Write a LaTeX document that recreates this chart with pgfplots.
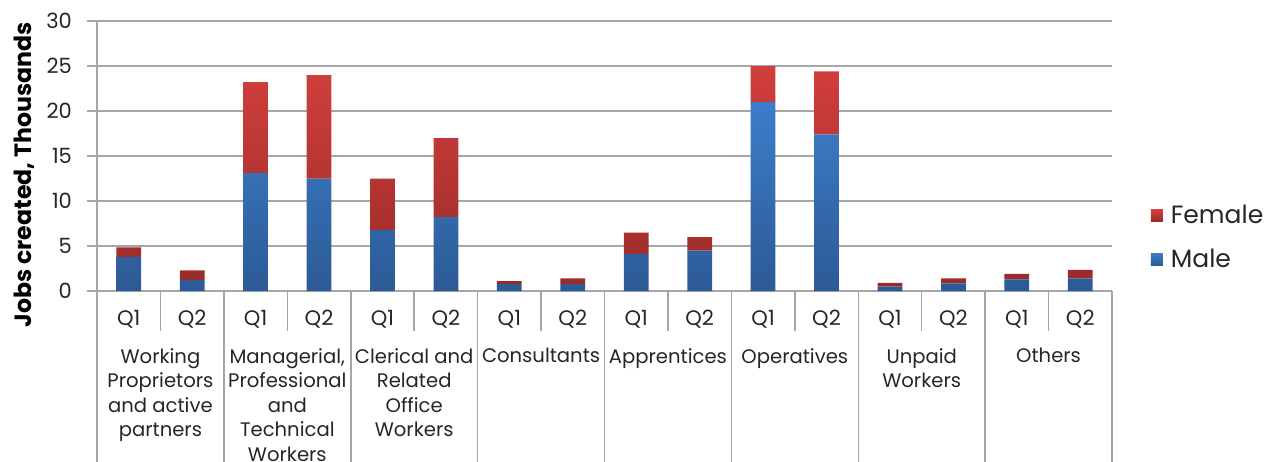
\documentclass[border=0pt]{standalone}
\usepackage{pgfplots}
\usepackage{pgfplotstable}
\pgfplotsset{compat=1.18}
\usepackage{fontspec}
\setmainfont{Poppins}
\usetikzlibrary{calc}
\definecolor{gridgray}{HTML}{A6A6A6}
\definecolor{btop}{HTML}{3D7DCA}
\definecolor{bbot}{HTML}{2C5A95}
\definecolor{rtop}{HTML}{D13F3C}
\definecolor{rbot}{HTML}{992B28}
\definecolor{txt}{HTML}{262626}
\tikzset{grp/.style={anchor=north, yshift=-28.5pt, align=center, inner sep=0pt,
    font=\fontsize{9.8}{12.25}\selectfont, text=txt}}

\pgfplotstableread{
x male female
0 3.8 1.05
1 1.2 1.1
2 13.1 10.1
3 12.5 11.5
4 6.8 5.7
5 8.2 8.8
6 0.8 0.3
7 0.8 0.6
8 4.1 2.4
9 4.5 1.5
10 21.0 4.0
11 17.4 7.0
12 0.5 0.4
13 0.85 0.55
14 1.3 0.6
15 1.4 0.95
}\datatable

\begin{document}
\begin{tikzpicture}
\begin{axis}[name=ax, scale only axis, width=507.5pt, height=135pt,
  xmin=-0.5, xmax=15.5, ymin=0, ymax=30,
  ybar stacked, bar width=0.39,
  axis x line*=bottom, axis y line*=left,
  axis line style={gridgray, line width=0.75pt},
  ytick={0,5,...,30}, ymajorgrids,
  grid style={gridgray, line width=0.75pt},
  tick align=outside, major tick length=5pt,
  ytick style={gridgray, line width=0.75pt},
  xtick={0,...,15},
  xticklabels={Q1,Q2,Q1,Q2,Q1,Q2,Q1,Q2,Q1,Q2,Q1,Q2,Q1,Q2,Q1,Q2},
  xtick style={draw=none},
  tick label style={font=\fontsize{10.5}{12.25}\selectfont, text=txt},
  xticklabel style={yshift=-1pt},
  yticklabel style={xshift=-4pt},
  /pgf/number format/assume math mode=true,
  ylabel={Jobs created, Thousands},
  ylabel style={at={(axis description cs:-0.072,0.43)}, anchor=center,
    font=\bfseries\fontsize{11.8}{13}\selectfont, text=black},
  clip=false,
  legend style={at={(1.032,0.198)}, anchor=west, draw=none, fill=none,
    font=\fontsize{12.5}{15}\selectfont, text=txt, row sep=7pt,
    cells={anchor=west}},
  reverse legend,
  legend image code/.code={\fill[#1] (0pt,-3pt) rectangle (6pt,3pt); \path (8pt,0pt);},
]
\addplot[draw=none, top color=btop, bottom color=bbot] table[x=x,y=male]{\datatable};
\addplot[draw=none, top color=rtop, bottom color=rbot] table[x=x,y=female]{\datatable};
\legend{Male, Female}
\pgfplotsinvokeforeach{0.5,2.5,4.5,6.5,8.5,10.5,12.5,14.5}{
  \draw[gridgray, line width=0.75pt] (axis cs:#1,0) -- ([yshift=-20pt]axis cs:#1,0);
}
\pgfplotsinvokeforeach{-0.5,1.5,3.5,5.5,7.5,9.5,11.5,13.5,15.5}{
  \draw[gridgray, line width=0.75pt] (axis cs:#1,0) -- ([yshift=-100pt]axis cs:#1,0);
}
\node[grp] at (axis cs:0.5,0) {Working\\Proprietors\\and active\\partners};
\node[grp] at (axis cs:2.5,0) {Managerial,\\Professional\\and\\Technical\\Workers};
\node[grp] at (axis cs:4.5,0) {Clerical and\\Related\\Office\\Workers};
\node[grp] at (axis cs:6.5,0) {Consultants};
\node[grp] at (axis cs:8.5,0) {Apprentices};
\node[grp] at (axis cs:10.5,0) {Operatives};
\node[grp] at (axis cs:12.5,0) {Unpaid\\Workers};
\node[grp] at (axis cs:14.5,0) {Others};
\end{axis}
\pgfresetboundingbox
\path[use as bounding box] ($(ax.south west)+(-48.5pt,-85pt)$) rectangle ($(ax.north east)+(79pt,10.5pt)$);
\end{tikzpicture}
\end{document}
